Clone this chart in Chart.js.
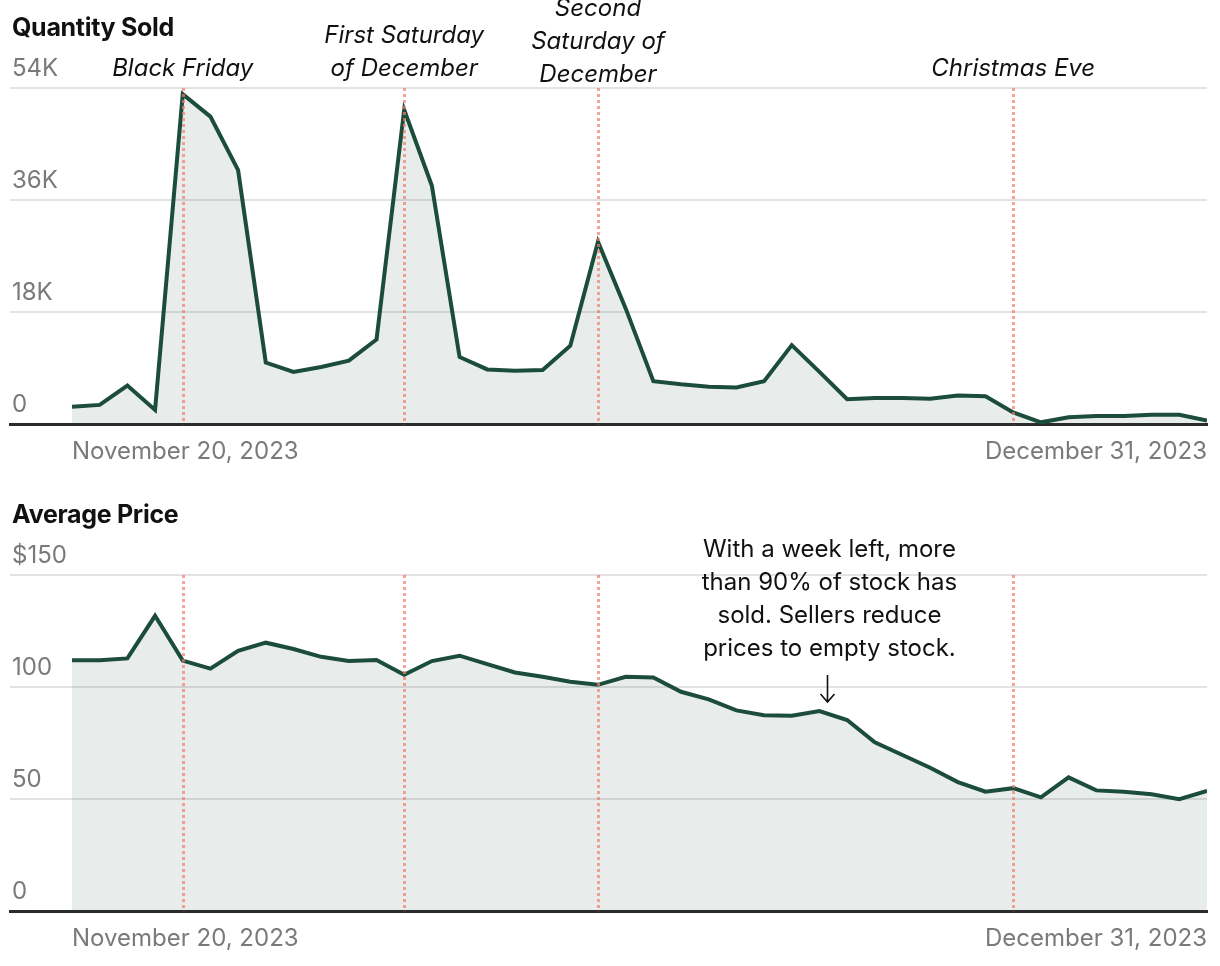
<!DOCTYPE html>
<html lang="en">
<head>
    <meta charset="UTF-8">
    <title>Quantity Sold and Average Price</title>
    <script src="https://cdn.jsdelivr.net/npm/chart.js@4.4.1/dist/chart.umd.min.js"></script>
    <style>
        html, body { margin: 0; padding: 0; background: #fff; overflow: hidden; }
        body { width: 1220px; height: 966px; position: relative; font-family: Inter, "Noto Sans", sans-serif; }
        .panel { position: absolute; left: 0; width: 1220px; }
        .panel h2 {
            position: absolute; left: 12px; top: 10px; margin: 0;
            font-size: 25px; font-weight: 700; color: #111; letter-spacing: -0.3px;
            line-height: 34px; z-index: 2;
        }
        canvas { position: absolute; left: 0; top: 0; }
    </style>
</head>
<body>
    <div class="panel" style="top:0">
        <canvas id="qty-chart" width="1220" height="479"></canvas>
        <h2>Quantity Sold</h2>
    </div>
    <div class="panel" style="top:487px">
        <canvas id="price-chart" width="1220" height="479"></canvas>
        <h2>Average Price</h2>
    </div>
    <script>
        // daily values, Nov 20 .. Dec 31, 2023
        const qtySold = [2800, 3100, 6200, 2300, 53000, 49400, 40800, 9900, 8400, 9200, 10200, 13600,
            50500, 38300, 10800, 8800, 8600, 8700, 12600, 29300, 18600, 6900, 6400, 6000,
            5900, 6900, 12700, 8400, 4000, 4200, 4200, 4100, 4600, 4500, 1900, 300,
            1100, 1300, 1300, 1500, 1500, 600];
        const avgPrice = [112.0, 112.0, 112.8, 131.8, 111.8, 108.2, 116.2, 119.8, 117.0, 113.5, 111.6, 112.1,
            105.5, 111.6, 114.0, 110.2, 106.5, 104.6, 102.4, 101.0, 104.6, 104.3, 97.9, 94.5,
            89.6, 87.4, 87.2, 89.3, 85.3, 75.4, 69.7, 64.0, 57.6, 53.3, 54.9, 50.8,
            59.7, 53.9, 53.3, 52.2, 50.0, 53.7];

        const dates = [];
        const startDate = new Date(2023, 10, 20);
        for (let i = 0; i < qtySold.length; i++) {
            const d = new Date(startDate);
            d.setDate(d.getDate() + i);
            dates.push(d.toLocaleDateString('en-US', { month: 'long', day: 'numeric', year: 'numeric' }));
        }
        const xTickLabels = [dates[0], dates[dates.length - 1]];

        const qtyTicks = [0, 18000, 36000, 54000];
        const qtyTickLabels = ['0', '18K', '36K', '54K'];
        const priceTicks = [0, 50, 100, 150];
        const priceTickLabels = ['0', '50', '100', '$150'];

        // marked days (index into dates) and their labels
        const eventDays = [4, 12, 19, 34];
        const eventLabels = [['Black Friday'], ['First Saturday', 'of December'], ['Second', 'Saturday of', 'December'], ['Christmas Eve']];
        const noteDay = 27;
        const noteLines = ['With a week left, more', 'than 90% of stock has', 'sold. Sellers reduce', 'prices to empty stock.'];

        const FONT = 'Inter, "Noto Sans", sans-serif';
        const GREEN = '#1c4d3a';

        // dotted event lines + labels / note
        const eventPlugin = {
            id: 'events',
            afterDatasetsDraw(chart, args, opts) {
                const { ctx, chartArea, scales: { x } } = chart;
                ctx.save();
                ctx.strokeStyle = 'rgba(244, 124, 108, 0.7)';
                ctx.lineWidth = 3;
                ctx.setLineDash([3, 3]);
                eventDays.forEach(d => {
                    const px = Math.round(x.getPixelForValue(d)) + 0.5;
                    ctx.beginPath();
                    ctx.moveTo(px, chartArea.top);
                    ctx.lineTo(px, chartArea.bottom);
                    ctx.stroke();
                });
                ctx.setLineDash([]);
                ctx.fillStyle = '#111';
                ctx.textAlign = 'center';
                ctx.textBaseline = 'alphabetic';
                if (opts.showLabels) {
                    ctx.font = 'italic 24px ' + FONT;
                    eventDays.forEach((d, i) => {
                        const px = x.getPixelForValue(d);
                        const lines = eventLabels[i];
                        const last = lines.length === 3 ? 82 : 76;
                        lines.forEach((t, j) => {
                            ctx.fillText(t, px, last - (lines.length - 1 - j) * 33);
                        });
                    });
                }
                if (opts.showNote) {
                    const px = x.getPixelForValue(noteDay);
                    ctx.font = '24px ' + FONT;
                    noteLines.forEach((t, j) => ctx.fillText(t, px + 10, 70 + j * 33));
                    const ax = Math.round(px + 8) + 0.5;
                    ctx.strokeStyle = '#111';
                    ctx.lineWidth = 1.6;
                    ctx.beginPath();
                    ctx.moveTo(ax, 188);
                    ctx.lineTo(ax, 215);
                    ctx.moveTo(ax - 7, 207);
                    ctx.lineTo(ax, 215);
                    ctx.lineTo(ax + 7, 207);
                    ctx.stroke();
                }
                ctx.restore();
            }
        };

        function makeChart(id, values, yMax, ticks, tickLabels, pluginOpts) {
            const ctx = document.getElementById(id).getContext('2d');
            return new Chart(ctx, {
                type: 'line',
                data: {
                    datasets: [{
                        data: values.map((v, i) => ({ x: i, y: v })),
                        borderColor: GREEN,
                        borderWidth: 4,
                        backgroundColor: 'rgba(28, 77, 58, 0.1)',
                        fill: 'origin',
                        pointRadius: 0,
                        tension: 0
                    }]
                },
                options: {
                    responsive: false,
                    animation: false,
                    layout: { padding: { top: 88, left: 6, right: 11, bottom: 0 } },
                    plugins: {
                        legend: { display: false },
                        tooltip: { enabled: false },
                        events: pluginOpts
                    },
                    scales: {
                        x: {
                            type: 'linear',
                            min: -2.24,
                            max: values.length - 1,
                            z: 1,
                            grid: { display: false, drawTicks: false },
                            border: { display: true, color: '#2b2b2b', width: 3 },
                            afterBuildTicks: s => { s.ticks = [{ value: 0 }, { value: values.length - 1 }]; },
                            ticks: {
                                align: 'inner',
                                padding: 13,
                                maxRotation: 0,
                                autoSkip: false,
                                color: '#7a7a7a',
                                font: { family: FONT, size: 24, lineHeight: 1.2 },
                                callback: (v) => v === 0 ? xTickLabels[0] : xTickLabels[1]
                            }
                        },
                        y: {
                            min: 0,
                            max: yMax,
                            grid: { color: '#e3e3e3', lineWidth: 2, drawTicks: false },
                            border: { display: false },
                            afterBuildTicks: s => { s.ticks = ticks.map(v => ({ value: v })); },
                            ticks: {
                                mirror: true,
                                padding: 2,
                                labelOffset: -19,
                                color: '#7a7a7a',
                                font: { family: FONT, size: 24 },
                                callback: (v) => tickLabels[ticks.indexOf(v)]
                            }
                        }
                    }
                },
                plugins: [eventPlugin]
            });
        }

        makeChart('qty-chart', qtySold, 54000, qtyTicks, qtyTickLabels, { showLabels: true });
        makeChart('price-chart', avgPrice, 150, priceTicks, priceTickLabels, { showNote: true });
    </script>
</body>
</html>
